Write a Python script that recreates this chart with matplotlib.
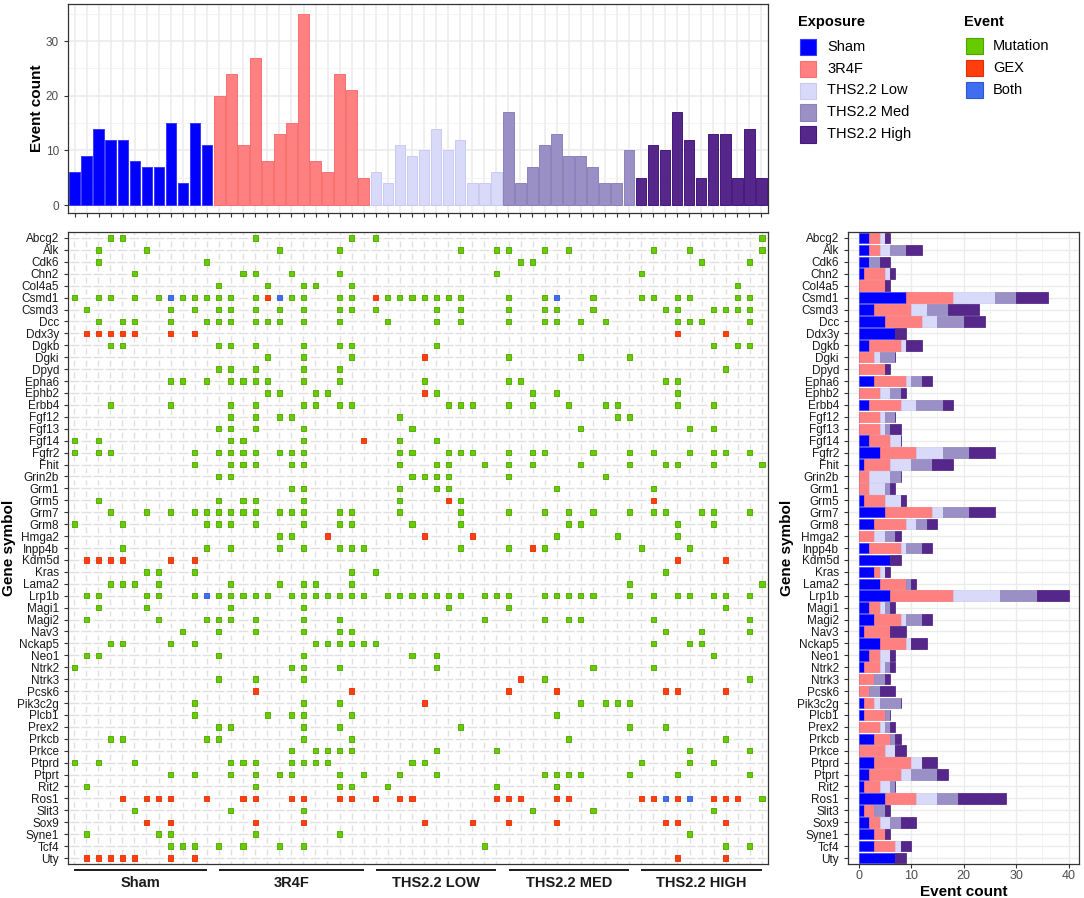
import matplotlib
matplotlib.use('Agg')
import matplotlib.pyplot as plt
import numpy as np
from matplotlib.collections import LineCollection, PatchCollection
from matplotlib.patches import Rectangle
from matplotlib.transforms import blended_transform_factory

plt.rcParams['font.family'] = ['Liberation Sans', 'DejaVu Sans']

# ---------------- data ----------------
groups = ['Sham', '3R4F', 'THS2.2 Low', 'THS2.2 Med', 'THS2.2 High']
group_axis_labels = ['Sham', '3R4F', 'THS2.2 LOW', 'THS2.2 MED', 'THS2.2 HIGH']
group_sizes = [12, 13, 11, 11, 11]

sample_event_counts = [6, 9, 14, 12, 12, 8, 7, 7, 15, 4, 15, 11,
                       20, 24, 11, 27, 8, 13, 15, 35, 8, 6, 24, 21, 5,
                       6, 4, 11, 9, 10, 14, 10, 12, 4, 4, 6,
                       17, 4, 7, 11, 13, 9, 9, 7, 4, 4, 10,
                       5, 11, 10, 17, 12, 5, 13, 13, 5, 14, 5]

genes = ['Abcg2', 'Alk', 'Cdk6', 'Chn2', 'Col4a5', 'Csmd1', 'Csmd3', 'Dcc', 'Ddx3y', 'Dgkb',
         'Dgki', 'Dpyd', 'Epha6', 'Ephb2', 'Erbb4', 'Fgf12', 'Fgf13', 'Fgf14', 'Fgfr2', 'Fhit',
         'Grin2b', 'Grm1', 'Grm5', 'Grm7', 'Grm8', 'Hmga2', 'Inpp4b', 'Kdm5d', 'Kras', 'Lama2',
         'Lrp1b', 'Magi1', 'Magi2', 'Nav3', 'Nckap5', 'Neo1', 'Ntrk2', 'Ntrk3', 'Pcsk6', 'Pik3c2g',
         'Plcb1', 'Prex2', 'Prkcb', 'Prkce', 'Ptprd', 'Ptprt', 'Rit2', 'Ros1', 'Slit3', 'Sox9',
         'Syne1', 'Tcf4', 'Uty']

# sample indices (0..57) with each event type, per gene
mutation_samples = {
    'Abcg2': [3, 4, 15, 23, 25, 57],
    'Alk': [2, 6, 17, 22, 32, 35, 36, 39, 41, 48, 51, 57],
    'Cdk6': [2, 11, 37, 38, 52, 56],
    'Chn2': [5, 14, 15, 18, 22, 35, 47],
    'Col4a5': [12, 16, 19, 20, 23, 55],
    'Csmd1': [0, 2, 3, 5, 7, 9, 10, 11, 12, 13, 15, 18, 19, 22, 23, 26, 27, 28, 29, 30, 31, 32,
              36, 39, 43, 47, 48, 50, 51, 55, 56],
    'Csmd3': [1, 8, 10, 12, 13, 15, 17, 19, 22, 23, 25, 30, 32, 36, 39, 40, 43, 49, 50, 53, 54, 55, 56],
    'Dcc': [2, 4, 5, 8, 11, 12, 13, 15, 16, 17, 19, 22, 26, 30, 32, 36, 39, 40, 42, 44, 50, 51, 52, 56],
    'Ddx3y': [],
    'Dgkb': [3, 4, 12, 13, 15, 19, 22, 23, 30, 53, 55, 56],
    'Dgki': [16, 19, 23, 36, 42, 46],
    'Dpyd': [12, 13, 15, 19, 22, 54],
    'Epha6': [8, 9, 11, 13, 14, 15, 16, 19, 22, 29, 36, 37, 49, 50],
    'Ephb2': [16, 17, 20, 21, 30, 38, 40, 50],
    'Erbb4': [3, 8, 13, 15, 19, 20, 22, 23, 31, 32, 33, 36, 38, 41, 44, 45, 50, 53],
    'Fgf12': [13, 15, 17, 18, 27, 45, 46],
    'Fgf13': [12, 13, 15, 19, 28, 42, 51, 53],
    'Fgf14': [0, 2, 13, 14, 19, 27, 30],
    'Fgfr2': [0, 2, 3, 10, 12, 13, 14, 15, 17, 18, 19, 27, 28, 31, 32, 33, 36, 38, 39, 43, 46,
              48, 51, 53, 54, 56],
    'Fhit': [10, 13, 14, 15, 18, 19, 27, 30, 31, 34, 36, 38, 42, 46, 49, 50, 53, 57],
    'Grin2b': [12, 13, 28, 29, 30, 31, 36, 44],
    'Grm1': [18, 19, 27, 30, 31, 40, 48],
    'Grm5': [2, 12, 14, 15, 19, 27, 32],
    'Grm7': [3, 6, 8, 10, 11, 12, 13, 14, 15, 17, 18, 19, 22, 23, 27, 32, 36, 39, 41, 43, 46,
             48, 49, 52, 53, 56],
    'Grm8': [0, 4, 11, 12, 13, 15, 19, 22, 23, 28, 32, 41, 42, 50, 53],
    'Hmga2': [17, 18, 40, 45, 50],
    'Inpp4b': [4, 11, 13, 17, 19, 22, 23, 24, 32, 36, 39, 47, 51],
    'Kdm5d': [],
    'Kras': [6, 7, 10, 23, 25, 49],
    'Lama2': [3, 4, 5, 7, 13, 17, 19, 20, 23, 46, 57],
    'Lrp1b': [1, 2, 6, 7, 10, 12, 13, 14, 15, 16, 18, 19, 20, 21, 22, 23, 24, 26, 27, 28, 29, 30,
              31, 32, 34, 35, 36, 39, 40, 41, 42, 43, 46, 48, 50, 51, 53, 54, 56],
    'Magi1': [2, 6, 13, 19, 31, 36, 54],
    'Magi2': [1, 7, 11, 12, 13, 15, 19, 22, 34, 39, 41, 42, 48, 56],
    'Nav3': [9, 12, 15, 19, 22, 23, 49, 52, 56],
    'Nckap5': [3, 4, 8, 10, 20, 21, 22, 23, 24, 25, 48, 51, 52],
    'Neo1': [1, 2, 12, 19, 28, 30, 53],
    'Ntrk2': [0, 18, 19, 22, 30, 43, 48],
    'Ntrk3': [12, 15, 19, 39, 56],
    'Pcsk6': [],
    'Pik3c2g': [10, 19, 22, 42, 44, 45, 46],
    'Plcb1': [10, 16, 18, 19, 23, 40],
    'Prex2': [12, 13, 19, 22, 32, 46, 49],
    'Prkcb': [3, 4, 11, 12, 19, 23, 41, 54],
    'Prkce': [18, 20, 21, 22, 23, 30, 35, 51, 56],
    'Ptprd': [0, 2, 5, 13, 14, 15, 18, 19, 20, 21, 28, 29, 47, 51, 53],
    'Ptprt': [8, 10, 13, 15, 17, 18, 22, 24, 27, 30, 39, 40, 41, 42, 46, 50, 56],
    'Rit2': [1, 15, 22, 23, 26, 35, 40],
    'Ros1': [57],
    'Slit3': [5, 13, 19, 38, 43, 53],
    'Sox9': [],
    'Syne1': [1, 7, 8, 15, 22, 51],
    'Tcf4': [8, 9, 10, 12, 14, 17, 19, 34, 54, 56],
    'Uty': [],
}
gex_samples = {
    'Csmd1': [16, 25],
    'Ddx3y': [1, 2, 3, 4, 5, 8, 10, 50, 54],
    'Dgki': [29],
    'Ephb2': [29],
    'Fgf14': [24],
    'Grm5': [31, 48],
    'Hmga2': [21, 29, 33],
    'Inpp4b': [38],
    'Kdm5d': [1, 2, 3, 4, 8, 10, 50, 54],
    'Ntrk3': [37],
    'Pcsk6': [15, 23, 36, 40, 49, 50, 54],
    'Pik3c2g': [29],
    'Ros1': [4, 6, 7, 8, 11, 14, 15, 18, 19, 22, 23, 25, 27, 28, 35, 36, 37, 40, 41, 47, 48,
             50, 53, 54, 55],
    'Sox9': [6, 8, 15, 19, 29, 33, 36, 40, 49, 50, 54],
    'Uty': [1, 2, 3, 4, 5, 8, 10, 50, 54],
}
both_samples = {
    'Csmd1': [8, 17, 40],
    'Lrp1b': [11],
    'Ros1': [49, 51],
}

event_types = ['Mutation', 'GEX', 'Both']

# ---------------- styling ----------------
group_fill = ['#0000FF', '#FF8080', '#D9D9FA', '#9A90C6', '#56278B']
group_edge = ['#3A3AFF', '#F87070', '#CACAF2', '#8C82BC', '#47197C']
event_fill = ['#66CC00', '#FF3D0D', '#3F6FF0']
event_edge = ['#4FA300', '#E03000', '#2E58D0']

W, H = 1084, 898
fig = plt.figure(figsize=(W / 100, H / 100), dpi=100)


def ax_px(x0, y0, x1, y1):
    return fig.add_axes([x0 / W, 1 - y1 / H, (x1 - x0) / W, (y1 - y0) / H])


def style_bw(ax):
    for s in ax.spines.values():
        s.set_color('#333333')
        s.set_linewidth(0.9)
    ax.tick_params(which='major', colors='#333333', length=3, width=0.8,
                   labelsize=8.5, labelcolor='#4D4D4D')
    ax.tick_params(which='minor', length=0)
    ax.set_axisbelow(True)


n_samples = sum(group_sizes)
sample_group = np.repeat(np.arange(len(groups)), group_sizes)
starts = np.concatenate([[0], np.cumsum(group_sizes)[:-1]])
x = np.arange(n_samples)

# ---------------- top bar chart ----------------
ax1 = ax_px(68, 4, 768, 213)
style_bw(ax1)
ax1.bar(x, sample_event_counts, width=0.88,
        color=[group_fill[g] for g in sample_group],
        edgecolor=[group_edge[g] for g in sample_group], linewidth=0.7, zorder=2)
ax1.set_xlim(-0.55, n_samples - 0.45)
ax1.set_ylim(-1.45, 36.8)
ax1.set_yticks([0, 10, 20, 30])
ax1.set_yticks([5, 15, 25, 35], minor=True)
ax1.set_xticks(x)
ax1.set_xticklabels([])
ax1.grid(which='major', color='#EBEBEB', linewidth=1.1)
ax1.grid(which='minor', axis='y', color='#F2F2F2', linewidth=0.6)
ax1.set_ylabel('Event count', fontweight='bold', fontsize=11)
ax1.yaxis.set_label_coords((44 - 68) / 700, 0.5)

# ---------------- heatmap ----------------
n_genes = len(genes)
mat = np.zeros((n_genes, n_samples), dtype=int)
for gi, g in enumerate(genes):
    for s in mutation_samples.get(g, []):
        mat[gi, s] = 1
    for s in gex_samples.get(g, []):
        mat[gi, s] = 2
    for s in both_samples.get(g, []):
        mat[gi, s] = 3

ax2 = ax_px(68, 232, 768, 864)
style_bw(ax2)
ax2.set_xlim(-0.5, n_samples - 0.5)
ax2.set_ylim(n_genes - 0.5, -0.5)

# light dashed lattice: horizontal dashes through row centres (broken at column
# boundaries), vertical dashes through column centres (broken at row centres)
hgap = 0.08
vgap = 0.26
segs = []
for i in range(n_genes):
    for j in range(n_samples):
        segs.append([(j - 0.5 + hgap, i), (j + 0.5 - hgap, i)])
for j in range(n_samples):
    for yb in np.arange(-0.5, n_genes, 1.0):
        segs.append([(j, max(yb - 0.5 + vgap, -0.5)), (j, min(yb + 0.5 - vgap, n_genes - 0.5))])
ax2.add_collection(LineCollection(segs, colors='#E0E0E0', linewidths=1.0, zorder=1))

rects, fcs, ecs = [], [], []
cw, ch = 0.42, 0.46
for gi in range(n_genes):
    for s in range(n_samples):
        v = mat[gi, s]
        if v:
            rects.append(Rectangle((s - cw / 2, gi - ch / 2), cw, ch))
            fcs.append(event_fill[v - 1])
            ecs.append(event_edge[v - 1])
ax2.add_collection(PatchCollection(rects, facecolors=fcs, edgecolors=ecs,
                                   linewidths=0.6, zorder=3))
ax2.set_yticks(np.arange(n_genes))
ax2.set_yticklabels(genes, fontsize=8.5, color='#1A1A1A')
ax2.set_xticks([])
ax2.set_ylabel('Gene symbol', fontweight='bold', fontsize=11)
ax2.yaxis.set_label_coords((16 - 68) / 700, 0.5)

tr = blended_transform_factory(ax2.transData, ax2.transAxes)
for gi, lab in enumerate(group_axis_labels):
    a = starts[gi]
    b = starts[gi] + group_sizes[gi] - 1
    ax2.plot([a, b], [-0.0095, -0.0095], transform=tr, color='#1A1A1A',
             linewidth=1.4, clip_on=False, solid_capstyle='butt')
    ax2.text((a + b) / 2, -0.030, lab, transform=tr, ha='center', va='center',
             fontsize=10.5, fontweight='bold', color='#1A1A1A')

# ---------------- right stacked bar chart ----------------
gene_group_counts = np.zeros((n_genes, len(groups)), dtype=int)
for k in range(len(groups)):
    cols = np.where(sample_group == k)[0]
    gene_group_counts[:, k] = (mat[:, cols] > 0).sum(axis=1)

ax3 = ax_px(848, 232, 1079, 864)
style_bw(ax3)
left = np.zeros(n_genes)
yy = np.arange(n_genes)
for k in range(len(groups)):
    ax3.barh(yy, gene_group_counts[:, k], left=left, height=0.88,
             color=group_fill[k], edgecolor=group_edge[k], linewidth=0.5, zorder=2)
    left += gene_group_counts[:, k]
ax3.set_ylim(n_genes - 0.5, -0.5)
ax3.set_xlim(-2, 42)
ax3.set_xticks([0, 10, 20, 30, 40])
ax3.set_xticks([5, 15, 25, 35], minor=True)
ax3.set_yticks(yy)
ax3.set_yticklabels(genes, fontsize=8.5, color='#1A1A1A')
ax3.grid(which='major', color='#EBEBEB', linewidth=1.0)
ax3.grid(which='minor', axis='x', color='#F2F2F2', linewidth=0.6)
ax3.tick_params(axis='x', labelsize=9, pad=1.5)
ax3.set_xlabel('Event count', fontweight='bold', fontsize=11)
ax3.xaxis.set_label_coords(0.5, (864 - 884.5) / 632)
ax3.set_ylabel('Gene symbol', fontweight='bold', fontsize=11)
ax3.yaxis.set_label_coords((794 - 848) / 231, 0.5)

# ---------------- legends ----------------
axl = fig.add_axes([0, 0, 1, 1], facecolor='none')
axl.set_xlim(0, W)
axl.set_ylim(H, 0)
axl.axis('off')

axl.text(798, 22, 'Exposure', fontsize=10.5, fontweight='bold', va='center', ha='left')
for k, g in enumerate(groups):
    cy = 46.7 + 21.9 * k
    axl.add_patch(Rectangle((799.5, cy - 8), 16.5, 16.5, facecolor=group_fill[k],
                            edgecolor=group_edge[k], linewidth=0.8))
    axl.text(827, cy, g, fontsize=10.5, va='center', ha='left')

axl.text(964, 22, 'Event', fontsize=10.5, fontweight='bold', va='center', ha='left')
for k, e in enumerate(event_types):
    cy = 45.7 + 21.9 * k
    axl.add_patch(Rectangle((966, cy - 8), 16.5, 16.5, facecolor=event_fill[k],
                            edgecolor=event_edge[k], linewidth=0.8))
    axl.text(993, cy, e, fontsize=10.5, va='center', ha='left')

fig.savefig('out.png', dpi=100)
